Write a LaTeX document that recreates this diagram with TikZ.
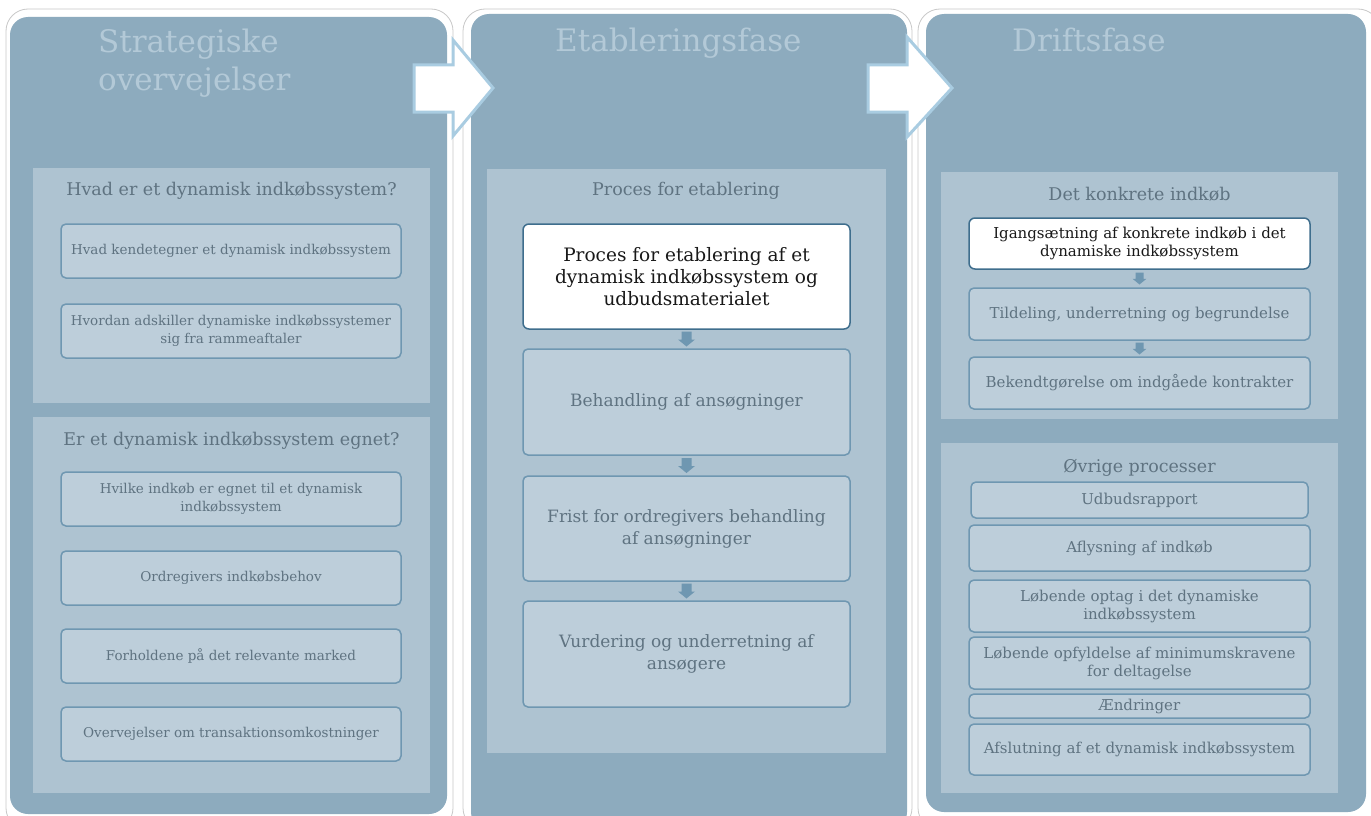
\documentclass[tikz,border=0pt]{standalone}
\usepackage{fontspec}
\setmainfont{DejaVu Serif}
\usetikzlibrary{calc}
\definecolor{panelbg}{HTML}{8DABBE}
\definecolor{secbg}{HTML}{AEC3D1}
\definecolor{boxbg}{HTML}{BDCEDA}
\definecolor{boxline}{HTML}{6F97B1}
\definecolor{darkline}{HTML}{3F6E8D}
\definecolor{titlecol}{HTML}{B3C9D7}
\definecolor{textcol}{HTML}{5F7381}
\definecolor{arrowline}{HTML}{A9CCE1}
\definecolor{framegray}{HTML}{C8C8C8}
\newcommand\dnarrow[3]{%
  \path ($(#1.south)!0.5!(#2.north)$) coordinate (tmpmid);
  \fill[smallarrow] ([shift={(-5*#3,-7.5*#3)}]tmpmid) -- ++(0,8*#3) -- ++(-3.5*#3,0)
    -- ++(8.5*#3,7*#3) -- ++(8.5*#3,-7*#3) -- ++(-3.5*#3,0) -- ++(0,-8*#3) -- cycle;
}
\begin{document}
\begin{tikzpicture}[x=1pt,y=-1pt,
  panelframe/.style={fill=white, draw=framegray, line width=0.8pt, rounded corners=22pt},
  panel/.style={fill=panelbg, rounded corners=18pt},
  section/.style={fill=secbg},
  bigtitle/.style={text=titlecol, font=\fontsize{31}{38}\selectfont, inner sep=0pt, align=left},
  sectitle/.style={text=textcol, font=\fontsize{17.5}{21}\selectfont, inner sep=0pt},
  greybox/.style={draw=boxline, fill=boxbg, line width=1.5pt, rounded corners=5pt, text=textcol, align=center, inner sep=0pt},
  whitebox/.style={draw=darkline, fill=white, line width=1.5pt, rounded corners=6pt, text=black!90, align=center, inner sep=0pt},
  smallfont/.style={font=\fontsize{13.5}{18}\selectfont},
  midfont/.style={font=\fontsize{17}{22}\selectfont},
  p3font/.style={font=\fontsize{15}{18}\selectfont},
  bigarrow/.style={fill=white, draw=arrowline, line width=3pt, line join=miter},
  smallarrow/.style={fill=boxline}
]
\useasboundingbox (0,0) rectangle (1371,816);

% panels
\draw[panelframe] (6,9) rectangle (453,830);
\fill[panel] (10,17) rectangle (447,814);
\draw[panelframe] (463,9) rectangle (912,830);
\fill[panel] (471,14) rectangle (907,830);
\draw[panelframe] (918,9) rectangle (1380,830);
\fill[panel] (926,14) rectangle (1366,812);

% titles
\node[bigtitle, anchor=north west] (t1) at (98,29) {Strategiske\\overvejelser};
\node[bigtitle, anchor=base west] (t2) at (555,52) {Etableringsfase};
\node[bigtitle, anchor=base west] (t3) at (1012,52) {Driftsfase};

% panel 1 sections
\fill[section] (33,168) rectangle (430,403);
\fill[section] (33,417) rectangle (430,793);
\node[sectitle, anchor=base] (s1a) at (231.5,195) {Hvad er et dynamisk indkøbssystem?};
\node[sectitle, anchor=base] (s1b) at (231.5,445) {Er et dynamisk indkøbssystem egnet?};

\node[greybox, smallfont, minimum width=340, minimum height=54] (a1) at (231,251) {Hvad kendetegner et dynamisk indkøbssystem};
\node[greybox, smallfont, minimum width=340, minimum height=54] (a2) at (231,331) {Hvordan adskiller dynamiske indkøbssystemer\\sig fra rammeaftaler};
\node[greybox, smallfont, minimum width=340, minimum height=54] (b1) at (231,499) {Hvilke indkøb er egnet til et dynamisk\\indkøbssystem};
\node[greybox, smallfont, minimum width=340, minimum height=54] (b2) at (231,578) {Ordregivers indkøbsbehov};
\node[greybox, smallfont, minimum width=340, minimum height=54] (b3) at (231,656) {Forholdene på det relevante marked};
\node[greybox, smallfont, minimum width=340, minimum height=54] (b4) at (231,734) {Overvejelser om transaktionsomkostninger};

% panel 2 section
\fill[section] (487,169) rectangle (886,753);
\node[sectitle, anchor=base] (s2) at (686,195) {Proces for etablering};
\node[whitebox, font=\fontsize{18.5}{22}\selectfont, minimum width=327, minimum height=105] (p1) at (686.5,276.5) {Proces for etablering af et\\dynamisk indkøbssystem og\\udbudsmaterialet};
\node[greybox, midfont, minimum width=327, minimum height=106] (p2) at (686.5,402) {Behandling af ansøgninger};
\node[greybox, midfont, minimum width=327, minimum height=105] (p3) at (686.5,528.5) {Frist for ordregivers behandling\\af ansøgninger};
\node[greybox, midfont, minimum width=327, minimum height=106] (p4) at (686.5,654) {Vurdering og underretning af\\ansøgere};
\dnarrow{p1}{p2}{1}
\dnarrow{p2}{p3}{1}
\dnarrow{p3}{p4}{1}

% panel 3 sections
\fill[section] (941,172) rectangle (1338,419);
\node[sectitle, anchor=base] (s3a) at (1139.5,200) {Det konkrete indkøb};
\node[whitebox, p3font, minimum width=341, minimum height=51] (d1) at (1139.5,243.5) {Igangsætning af konkrete indkøb i det\\dynamiske indkøbssystem};
\node[greybox, p3font, minimum width=341, minimum height=52] (d2) at (1139.5,314) {Tildeling, underretning og begrundelse};
\node[greybox, p3font, minimum width=341, minimum height=52] (d3) at (1139.5,383) {Bekendtgørelse om indgåede kontrakter};
\dnarrow{d1}{d2}{0.8}
\dnarrow{d2}{d3}{0.8}

\fill[section] (941,443) rectangle (1338,793);
\node[sectitle, anchor=base] (s3b) at (1139.5,472) {Øvrige processer};
\node[greybox, p3font, minimum width=337, minimum height=36] (o1) at (1139.5,500) {Udbudsrapport};
\node[greybox, p3font, minimum width=341, minimum height=46] (o2) at (1139.5,548) {Aflysning af indkøb};
\node[greybox, p3font, minimum width=341, minimum height=52] (o3) at (1139.5,606) {Løbende optag i det dynamiske\\indkøbssystem};
\node[greybox, p3font, minimum width=341, minimum height=52] (o4) at (1139.5,663) {Løbende opfyldelse af minimumskravene\\for deltagelse};
\node[greybox, p3font, minimum width=341, minimum height=24] (o5) at (1139.5,706) {Ændringer};
\node[greybox, p3font, minimum width=341, minimum height=51] (o6) at (1139.5,749.5) {Afslutning af et dynamisk indkøbssystem};

% big arrows
\draw[bigarrow] (414,65) -- (453,65) -- (453,40) -- (493,88) -- (453,136) -- (453,112) -- (414,112) -- cycle;
\draw[bigarrow] (868,65) -- (907,65) -- (907,37) -- (952,88) -- (907,137) -- (907,112) -- (868,112) -- cycle;
\end{tikzpicture}
\end{document}
